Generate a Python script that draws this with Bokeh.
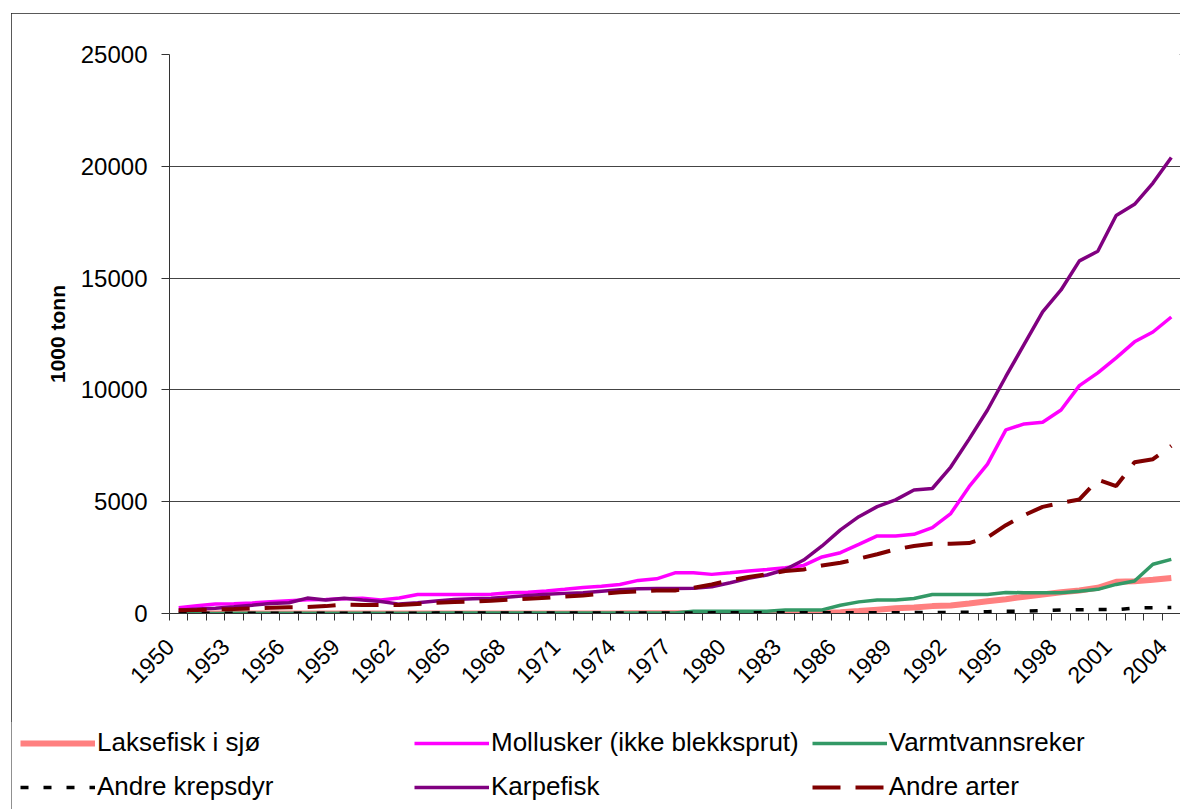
import numpy as np
from bokeh.plotting import figure
from bokeh.layouts import column
from bokeh.models import Range1d, FixedTicker, Legend, LegendItem, ColumnDataSource, LinearAxis
from bokeh.embed import file_html
from bokeh.resources import INLINE

# ---------------- data ----------------
years = list(range(1950, 2005))
tick_years = years[::3]
y_ticks = [0, 5000, 10000, 15000, 20000, 25000]

laksefisk = [0, 0, 0, 0, 0, 0, 0, 0, 0, 0,
             0, 0, 0, 0, 0, 0, 0, 0, 0, 0,
             2, 3, 4, 5, 6, 8, 10, 12, 14, 15,
             15, 16, 18, 20, 25, 30, 60, 110, 170, 230,
             270, 330, 360, 450, 550, 640, 750, 850, 950, 1030,
             1150, 1420, 1440, 1510, 1590]

mollusker = [260, 350, 420, 440, 470, 530, 570, 610, 630, 660,
             680, 600, 690, 850, 850, 850, 850, 860, 930, 950,
             1010, 1080, 1160, 1220, 1300, 1480, 1550, 1820, 1820, 1750,
             1820, 1900, 1970, 2050, 2150, 2530, 2720, 3090, 3470, 3470,
             3540, 3840, 4470, 5670, 6680, 8210, 8480, 8550, 9100, 10190,
             10760, 11430, 12150, 12590, 13260]

varmtvannsreker = [3, 4, 5, 6, 7, 8, 9, 10, 11, 12,
                   13, 14, 15, 16, 17, 18, 19, 20, 21, 22,
                   22, 23, 24, 25, 25, 20, 20, 20, 100, 100,
                   100, 100, 100, 160, 160, 160, 370, 520, 600, 600,
                   670, 850, 850, 850, 850, 940, 930, 930, 930, 1000,
                   1080, 1300, 1450, 2200, 2420]

andre_krepsdyr = [10, 10, 11, 11, 12, 12, 13, 13, 14, 14,
                  15, 15, 16, 16, 17, 17, 18, 18, 19, 19,
                  20, 20, 21, 22, 23, 24, 25, 26, 27, 28,
                  29, 30, 31, 32, 33, 34, 35, 36, 37, 38,
                  40, 45, 50, 60, 80, 100, 100, 130, 160, 170,
                  180, 170, 250, 260, 270]

karpefisk = [150, 200, 240, 300, 370, 450, 480, 690, 600, 680,
             600, 540, 420, 480, 560, 630, 660, 680, 740, 800,
             860, 900, 930, 1000, 1060, 1110, 1120, 1120, 1130, 1200,
             1375, 1570, 1720, 1970, 2390, 3020, 3740, 4330, 4780, 5080,
             5520, 5590, 6550, 7800, 9100, 10600, 12050, 13490, 14470, 15770,
             16200, 17800, 18300, 19250, 20390]

andre_arter = [150, 160, 180, 200, 230, 260, 280, 290, 330, 400,
               380, 380, 380, 430, 480, 510, 530, 570, 620, 660,
               700, 760, 810, 880, 950, 990, 1030, 1030, 1150, 1300,
               1480, 1630, 1750, 1900, 1970, 2150, 2270, 2450, 2650, 2870,
               3020, 3120, 3120, 3150, 3400, 3950, 4400, 4770, 4950, 5100,
               5980, 5700, 6760, 6900, 7500]

series_names = ["Laksefisk i sjø", "Mollusker (ikke blekksprut)", "Varmtvannsreker",
                "Andre krepsdyr", "Karpefisk", "Andre arter"]
series_keys = ["laks", "moll", "varm", "kreps", "karpe", "andre"]
series_styles = [
    dict(line_color="#FF8080", line_width=6),
    dict(line_color="#FF00FF", line_width=3.5),
    dict(line_color="#339966", line_width=3.5),
    dict(line_color="black", line_width=3.5, line_dash="8 15"),
    dict(line_color="#800080", line_width=3.5),
    dict(line_color="#800000", line_width=4, line_dash="28 15"),
]

# ---------------- main chart ----------------
src = ColumnDataSource(dict(year=years, laks=laksefisk, moll=mollusker, varm=varmtvannsreker,
                            kreps=andre_krepsdyr, karpe=karpefisk, andre=andre_arter))

FONT = "Liberation Sans"
OUTLINE = {"outline": "1px solid #222222", "outline-offset": "-1px"}
X0, X1 = years[0] - 0.5, years[-1] + 0.5
LABEL_SHIFT = 0.48   # rotated year labels sit slightly left of their category, as in the original

p = figure(width=1169, height=709, output_backend="svg", toolbar_location=None,
           x_range=Range1d(X0, X1), y_range=Range1d(0, 25000), x_axis_location=None,
           min_border_left=158, min_border_right=0, min_border_top=41, min_border_bottom=109)
p.styles = OUTLINE
p.outline_line_color = None
p.background_fill_color = "white"
p.border_fill_color = "white"

# x axis: year labels every third year (rotated), tick marks on the category boundaries
p.extra_x_ranges = {"labels": Range1d(X0 + LABEL_SHIFT, X1 + LABEL_SHIFT)}
boundaries = [y - 0.5 for y in years] + [X1]
xl = LinearAxis(x_range_name="labels",
                ticker=FixedTicker(ticks=tick_years,
                                   minor_ticks=[b + LABEL_SHIFT for b in boundaries]))
xl.axis_line_color = "#333333"
xl.major_tick_line_color = None
xl.major_tick_out = 0
xl.major_tick_in = 0
xl.minor_tick_line_color = "#333333"
xl.minor_tick_out = 7
xl.minor_tick_in = 0
xl.major_label_orientation = np.pi / 4
xl.major_label_standoff = 22
xl.major_label_text_font = FONT
xl.major_label_text_font_size = "23px"
xl.major_label_text_color = "black"
p.add_layout(xl, "below")

ya = p.yaxis[0]
ya.ticker = FixedTicker(ticks=y_ticks)
ya.major_tick_out = 8
ya.major_tick_in = 0
ya.minor_tick_line_color = None
ya.axis_line_color = "#333333"
ya.major_tick_line_color = "#333333"
ya.major_label_standoff = 14
ya.major_label_text_font = FONT
ya.major_label_text_font_size = "24px"
ya.major_label_text_color = "black"
ya.axis_label = "1000 tonn"
ya.axis_label_text_font = FONT
ya.axis_label_text_font_style = "bold"
ya.axis_label_text_font_size = "21px"
ya.axis_label_text_color = "black"
ya.axis_label_standoff = 9

p.xgrid.visible = False
p.ygrid.ticker = FixedTicker(ticks=y_ticks)
p.ygrid.grid_line_color = "#444444"
p.ygrid.grid_line_width = 1

for key, st in zip(series_keys, series_styles):
    p.line("year", key, source=src, **st)

# ---------------- legend strip ----------------
lg = figure(width=1169, height=87, output_backend="svg", toolbar_location=None,
            x_axis_type=None, y_axis_type=None,
            x_range=Range1d(0, 1), y_range=Range1d(0, 1),
            min_border_left=0, min_border_right=0, min_border_top=0, min_border_bottom=0)
lg.styles = OUTLINE
lg.outline_line_color = None
lg.grid.visible = False
lg.background_fill_color = "white"
lg.border_fill_color = "white"

for fig in (p, lg):
    try:
        fig.frame_align = False
    except Exception:
        pass

# same series in the strip (outside its visible range) so the legend can show their line styles
leg_renderers = [lg.line("year", key, source=src, **st) for key, st in zip(series_keys, series_styles)]

legend = Legend(items=[LegendItem(label=n, renderers=[r]) for n, r in zip(series_names, leg_renderers)],
                location=(0, -2), orientation="horizontal", ncols=3,
                padding=8, spacing=13, margin=0,
                glyph_width=75, glyph_height=20, label_standoff=2,
                label_width=304, label_height=30,
                label_text_font=FONT, label_text_font_size="26px", label_text_color="black",
                border_line_color="#222222", border_line_width=1,
                background_fill_color="white", background_fill_alpha=1.0)
lg.add_layout(legend)

layout = column(p, lg, spacing=0, margin=(13, 0, 0, 11))
open("out.html", "w").write(file_html(layout, INLINE))
